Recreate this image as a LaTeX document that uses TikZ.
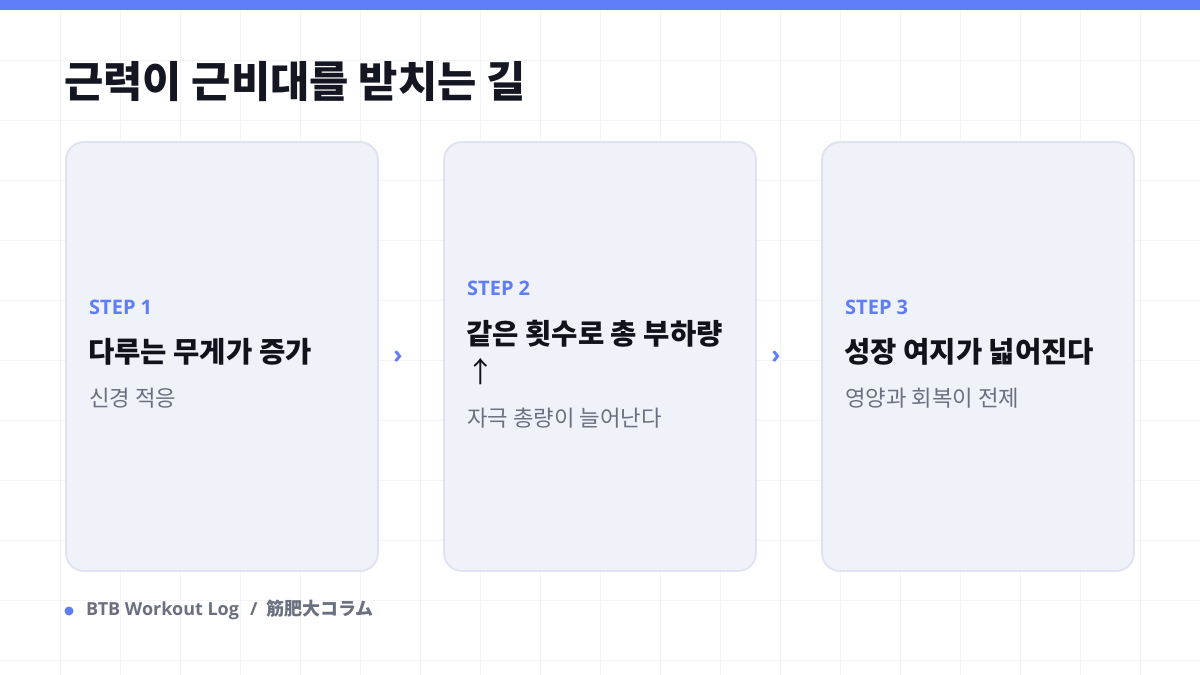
\documentclass[tikz,border=0pt]{standalone}
\usepackage{fontspec}
\setmainfont{Open Sans}
\newfontfamily\krfont{Noto Sans CJK KR}
\newfontfamily\jpfont{Noto Sans CJK JP}
\definecolor{accent}{RGB}{94,125,247}
\definecolor{gridc}{RGB}{243,244,247}
\definecolor{cardfill}{RGB}{240,242,250}
\definecolor{cardline}{RGB}{223,227,239}
\definecolor{titlec}{RGB}{20,22,33}
\definecolor{headc}{RGB}{17,19,28}
\definecolor{subc}{RGB}{107,112,128}
\tikzset{
  card/.style={draw=cardline, line width=1.8pt, fill=cardfill, rounded corners=18pt,
    minimum width=312pt, minimum height=429pt, inner sep=0pt},
  steplabel/.style={anchor=west, inner sep=0pt, text=accent, font=\fontsize{20}{24}\selectfont\bfseries},
  headline/.style={anchor=west, inner sep=0pt, text=headc, align=left, font=\krfont\fontsize{28.6}{38}\selectfont\bfseries},
  subline/.style={anchor=west, inner sep=0pt, text=subc, font=\krfont\fontsize{22.3}{26}\selectfont},
  chevron/.style={inner sep=0pt, text=accent, font=\fontsize{25}{28}\selectfont\bfseries},
}
\begin{document}
\begin{tikzpicture}[x=1pt,y=-1pt]
\useasboundingbox (0,0) rectangle (1200,675);
\fill[white] (0,0) rectangle (1200,675);
% grid
\foreach \gx in {60,120,...,1140} \draw[gridc, line width=1pt] (\gx,0) -- (\gx,675);
\foreach \gy in {60,120,...,660} \draw[gridc, line width=1pt] (0,\gy) -- (1200,\gy);
% top bar
\fill[accent] (0,0) rectangle (1200,10);
% title
\node[anchor=west, inner sep=0pt, text=titlec, font=\krfont\fontsize{42.7}{50}\selectfont\bfseries] (title) at (64,82) {근력이 근비대를 받치는 길};
% cards
\node[card] (c1) at (222,356.5) {};
\node[card] (c2) at (600,356.5) {};
\node[card] (c3) at (978,356.5) {};
% card 1
\node[steplabel] (s1) at (89,307.5) {STEP 1};
\node[headline] (h1) at (88,352) {다루는 무게가 증가};
\node[subline] (b1) at (89,398) {신경 적응};
% card 2
\node[steplabel] (s2) at (467,288) {STEP 2};
\node[headline] (h2) at (466,352) {같은 횟수로 총 부하량\\{\mdseries ↑}};
\node[subline] (b2) at (467,418) {자극 총량이 늘어난다};
% card 3
\node[steplabel] (s3) at (845,307.5) {STEP 3};
\node[headline] (h3) at (844,352) {성장 여지가 넓어진다};
\node[subline] (b3) at (845,398) {영양과 회복이 전제};
% chevrons
\node[chevron] (a1) at (398,357) {›};
\node[chevron] (a2) at (776,357) {›};
% footer
\fill[accent] (69,611) circle (4.5) coordinate (dot);
\node[anchor=west, inner sep=0pt, text=subc, font=\fontsize{18}{22}\selectfont\bfseries] (foot) at (86,610) {BTB Workout Log\hspace{11pt}/\hspace{9pt}{\jpfont 筋肥大コラム}};
\end{tikzpicture}
\end{document}
